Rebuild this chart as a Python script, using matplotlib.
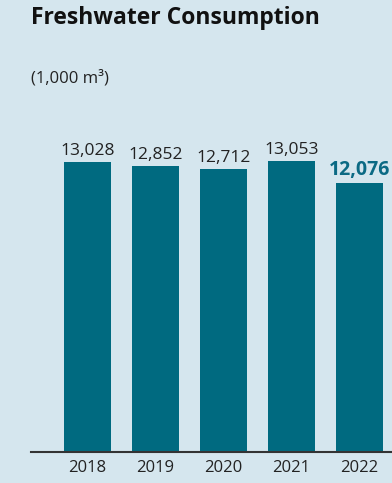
import matplotlib.pyplot as plt

plt.rcParams['font.family'] = ['Open Sans', 'DejaVu Sans']

years = ['2018', '2019', '2020', '2021', '2022']
values = [13028, 12852, 12712, 13053, 12076]

bg = '#d5e6ee'
bar_color = '#006a80'

fig = plt.figure(figsize=(3.92, 4.83), dpi=100, facecolor=bg)
ax = fig.add_axes([31 / 392, 31 / 483, 1 - 31 / 392, 352 / 483])
ax.set_facecolor(bg)

x = range(len(years))
ax.bar(x, values, width=0.69, color=bar_color)

for i, v in enumerate(values):
    last = i == len(values) - 1
    ax.text(i, v + 150, f'{v:,}', ha='center', va='bottom',
            fontsize=14 if last else 12.5,
            fontweight='bold' if last else 'normal',
            color='#0b6a84' if last else '#222222')

ax.set_xlim(-0.83, 4.48)
ax.set_ylim(0, 352 * 13028 / 290)
ax.set_xticks(list(x))
ax.set_xticklabels(years, fontsize=12, color='#222222')
ax.tick_params(axis='x', length=0, pad=6)
ax.set_yticks([])
for s in ['top', 'right', 'left']:
    ax.spines[s].set_visible(False)
ax.spines['bottom'].set_color('#333333')
ax.spines['bottom'].set_linewidth(1.5)

fig.text(31 / 392, 1 - 18 / 483, 'Freshwater Consumption', fontsize=16.5,
         fontweight='bold', color='#111111', va='center', ha='left')
fig.text(31 / 392, 1 - 78 / 483, '(1,000 m³)', fontsize=12,
         color='#222222', va='center', ha='left')

fig.savefig('out.png', dpi=100, facecolor=bg)
